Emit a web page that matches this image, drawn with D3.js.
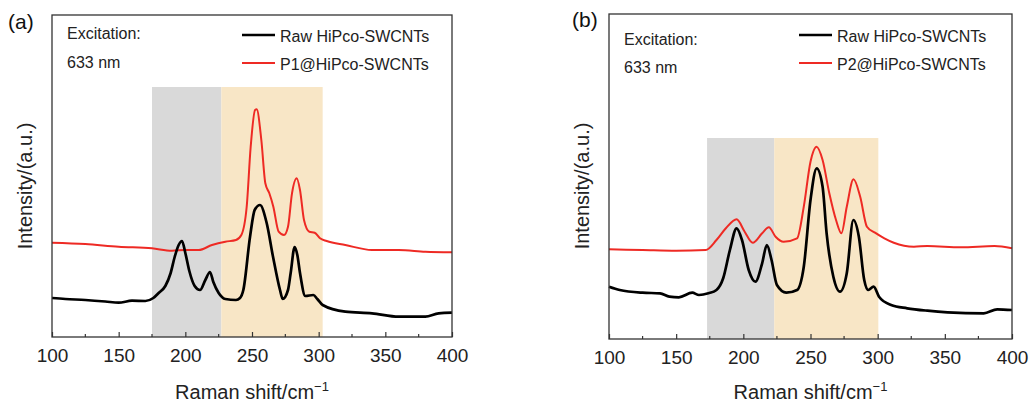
<!DOCTYPE html>
<html>
<head>
<meta charset="utf-8">
<script src="https://cdn.jsdelivr.net/npm/d3@7"></script>
<style>
  body { margin: 0; background: #fff; }
  svg { font-family: "Liberation Sans", Arial, sans-serif; }
</style>
</head>
<body>
<script>
// Raman shift (cm-1) / intensity (a.u.)
const rawA_x = [100,110,125,140,150,160,170,176,180,185,189,192,195,197.5,200,203,207,211,215,218.5,221,225,230,238,241,243.5,248.5,252,256,261,265.8,271,273,277,279,282,284,286,290,296,299,303,320,340,360,380,390,400];
const rawA_y = [39,38,37,35.5,34.3,36.3,36,39,44,51,64,80,92,96,84,66,51,47,57,65,55,44,38,37,39,47,100,127,132,114,80,47,38,47,64,90,82,64,41,42,38,32,25.3,23.7,20.3,20.3,23.7,24.3];

const p1A_x = [100,125,150,175,190,200,210,220,230,238,242,246,249,252.3,253.5,257,260,263,266,270,274,277,280,283.5,286,289,293,297,301,306,320,340,360,380,400];
const p1A_y = [94.3,93,90.3,88.7,86.3,87,87,92,95.3,97,102,130,190,227,227.7,197,153.7,143.7,130.3,105.3,102,110.3,143.7,158.7,147,117,105.3,104.3,98.7,96,92,87,87,85.3,84.7];

const rawB_x = [100,108,125,138,145,152,162,167,174,180,185,190,195,199,204,209,214,217.5,221,225,232,240,245,250,254.6,259,262,267,272,277,281.9,286,290,293,297,301,310,322,337,352,379,389,400];
const rawB_y = [52.3,49,46.3,45.7,42.3,41.7,46.3,44,45.7,49,60.7,89,110.7,99,69,57.3,75.7,94,79,54,46.3,49,72.3,139,170.7,152.3,105.7,62.3,47.3,65.7,119,102.3,59,49,52.3,42.3,34,30.7,28.3,26.7,25.7,29.7,29];

const p2B_x = [100,125,150,172,180,187,195,201,207,214,219,224,230,240,245,250,254.5,259,264,269,273,277,282,287,292,298,305,312,327,337,362,387,400];
const p2B_y = [89.7,89,88.3,89,99,110.7,119.7,107.3,96.3,105.7,111.7,102.3,97.3,100.7,132.3,177.3,192.3,179,145.7,119,105.7,132.3,159.7,142.3,112.3,106.3,100.7,96.3,92.3,93,91.7,93,90.7];

const xTicks = [100,150,200,250,300,350,400];
const xMinor = [125,175,225,275,325,375];

// shaded bands: [start, end, top intensity]
const grayA = [175, 227, 250], tanA = [227, 303, 250];
const grayB = [173, 223, 201], tanB = [223, 300.5, 201];

const seriesA = ["Raw HiPco-SWCNTs", "P1@HiPco-SWCNTs"];
const seriesB = ["Raw HiPco-SWCNTs", "P2@HiPco-SWCNTs"];

const zip = (xs, ys) => xs.map((x, i) => ({x: x, y: ys[i]}));

const svg = d3.select("body").append("svg")
    .attr("width", 1030)
    .attr("height", 402);

const panels = [
  {tag: "(a)", tagX: 8, tagY: 29, left: 52, top: 15, right: 452, bottom: 337, ymax: 322,
   raw: zip(rawA_x, rawA_y), mod: zip(p1A_x, p1A_y), gray: grayA, tan: tanA, names: seriesA,
   excX: 67, excY: [39, 68], legX: 242, legY: [35, 63]},
  {tag: "(b)", tagX: 572, tagY: 27, left: 609, top: 14, right: 1012, bottom: 339, ymax: 325,
   raw: zip(rawB_x, rawB_y), mod: zip(p2B_x, p2B_y), gray: grayB, tan: tanB, names: seriesB,
   excX: 624, excY: [45, 73], legX: 799, legY: [35, 63]}
];

panels.forEach(p => {
  const x = d3.scaleLinear().domain([100, 400]).range([p.left, p.right]);
  const y = d3.scaleLinear().domain([0, p.ymax]).range([p.bottom, p.top]);
  const g = svg.append("g");

  // shaded regions
  [[p.gray, "#d9d9d9"], [p.tan, "#f8e6c6"]].forEach(([b, c]) => {
    g.append("rect")
      .attr("x", x(b[0]))
      .attr("y", y(b[2]))
      .attr("width", x(b[1]) - x(b[0]))
      .attr("height", y(0) - y(b[2]))
      .attr("fill", c);
  });

  const line = d3.line()
    .x(d => x(d.x))
    .y(d => y(d.y))
    .curve(d3.curveMonotoneX);

  g.append("path").datum(p.mod)
    .attr("d", line)
    .attr("fill", "none")
    .attr("stroke", "#ee2a24")
    .attr("stroke-width", 2)
    .attr("stroke-linejoin", "round");

  g.append("path").datum(p.raw)
    .attr("d", line)
    .attr("fill", "none")
    .attr("stroke", "#000")
    .attr("stroke-width", 2.7)
    .attr("stroke-linejoin", "round");

  // x axis, ticks pointing inward
  const ax = g.append("g")
    .attr("transform", "translate(0," + p.bottom + ")")
    .call(d3.axisBottom(x).tickValues(xTicks).tickSizeInner(-5).tickSizeOuter(0).tickPadding(12));
  ax.select(".domain").remove();
  ax.selectAll(".tick line").attr("stroke", "#333").attr("stroke-width", 1.2);
  ax.selectAll(".tick text").attr("font-size", 19).attr("fill", "#222")
    .attr("font-family", "Liberation Sans, Arial, sans-serif");

  g.selectAll(".minor").data(xMinor).enter().append("line")
    .attr("x1", d => x(d)).attr("x2", d => x(d))
    .attr("y1", p.bottom).attr("y2", p.bottom - 3)
    .attr("stroke", "#333").attr("stroke-width", 1.2);

  // frame
  g.append("rect")
    .attr("x", p.left).attr("y", p.top)
    .attr("width", p.right - p.left).attr("height", p.bottom - p.top)
    .attr("fill", "none").attr("stroke", "#333").attr("stroke-width", 1.3);

  // axis titles
  const xt = g.append("text")
    .attr("x", (p.left + p.right) / 2)
    .attr("y", 399)
    .attr("text-anchor", "middle")
    .attr("font-size", 20)
    .attr("fill", "#222")
    .text("Raman shift/cm");
  xt.append("tspan").attr("font-size", 13).attr("dy", -8).text("\u22121");

  g.append("text")
    .attr("transform", "translate(" + (p.left - 20) + ",186) rotate(-90)")
    .attr("text-anchor", "middle")
    .attr("font-size", 20)
    .attr("fill", "#222")
    .text("Intensity/(a.u.)");

  // panel tag
  svg.append("text")
    .attr("x", p.tagX).attr("y", p.tagY)
    .attr("font-size", 21).attr("fill", "#111")
    .text(p.tag);

  // excitation note
  ["Excitation:", "633 nm"].forEach((t, i) => {
    g.append("text")
      .attr("x", p.excX).attr("y", p.excY[i])
      .attr("font-size", 16).attr("fill", "#222")
      .text(t);
  });

  // legend
  [["#000", 2.6], ["#ee2a24", 2]].forEach(([c, w], i) => {
    g.append("line")
      .attr("x1", p.legX).attr("x2", p.legX + 33)
      .attr("y1", p.legY[i]).attr("y2", p.legY[i])
      .attr("stroke", c).attr("stroke-width", w);
    g.append("text")
      .attr("x", p.legX + 38).attr("y", p.legY[i] + 6.5)
      .attr("font-size", 16).attr("fill", "#222")
      .text(p.names[i]);
  });
});
</script>
</body>
</html>
